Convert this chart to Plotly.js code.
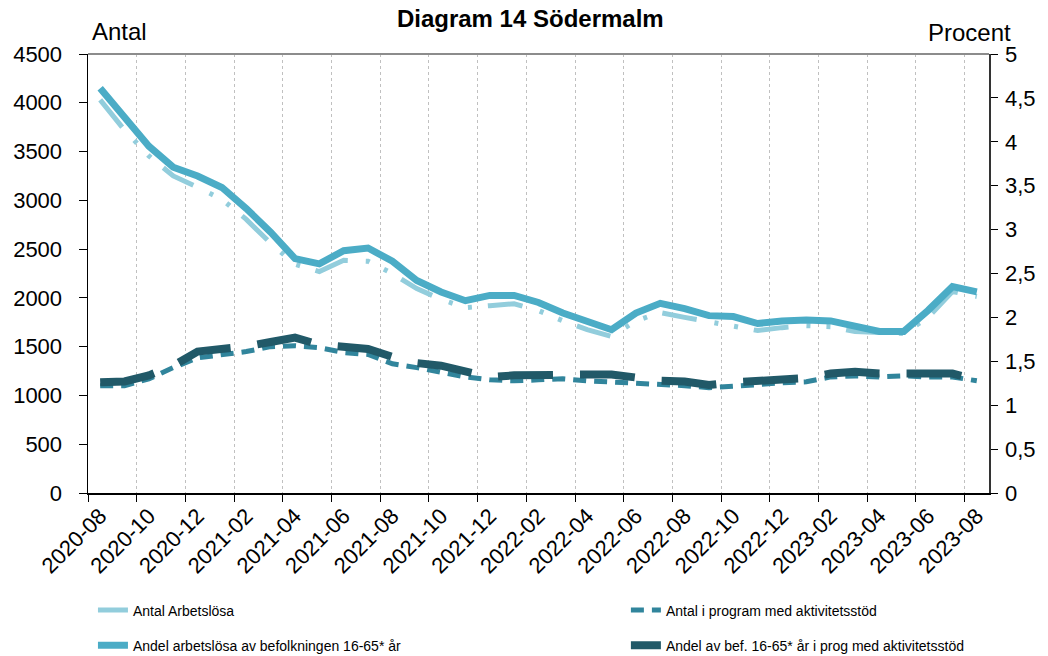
<!DOCTYPE html>
<html>
<head>
<meta charset="utf-8">
<script src="https://cdn.plot.ly/plotly-3.0.1.min.js"></script>
<style>html,body{margin:0;padding:0;background:#fff;}#chart{width:1048px;height:656px;}</style>
</head>
<body>
<div id="chart"></div>
<script>
const months = ["2020-08","2020-09","2020-10","2020-11","2020-12","2021-01","2021-02","2021-03","2021-04","2021-05","2021-06","2021-07","2021-08","2021-09","2021-10","2021-11","2021-12","2022-01","2022-02","2022-03","2022-04","2022-05","2022-06","2022-07","2022-08","2022-09","2022-10","2022-11","2022-12","2023-01","2023-02","2023-03","2023-04","2023-05","2023-06","2023-07","2023-08"];
const antalArbetslosa = [4030,3720,3455,3250,3135,3010,2805,2560,2345,2270,2385,2375,2250,2095,1985,1900,1920,1940,1870,1765,1675,1605,1765,1850,1800,1755,1715,1665,1695,1715,1705,1655,1645,1635,1800,2065,2015];
const antalProgram = [1100,1100,1170,1285,1385,1420,1450,1500,1510,1490,1440,1420,1325,1285,1235,1190,1160,1150,1160,1170,1150,1140,1130,1120,1100,1080,1090,1110,1130,1140,1190,1200,1190,1200,1190,1190,1150];
const andelArbetslosa = [4.61,4.28,3.95,3.71,3.61,3.48,3.24,2.97,2.67,2.61,2.76,2.79,2.64,2.42,2.29,2.19,2.25,2.25,2.17,2.05,1.95,1.86,2.05,2.16,2.10,2.02,2.01,1.93,1.96,1.97,1.96,1.89,1.84,1.84,2.08,2.35,2.29];
const andelProgram = [1.26,1.27,1.34,1.45,1.61,1.63,1.67,1.72,1.77,1.69,1.67,1.64,1.55,1.48,1.45,1.39,1.32,1.34,1.35,1.34,1.35,1.35,1.31,1.28,1.27,1.23,1.26,1.28,1.30,1.31,1.36,1.38,1.36,1.35,1.36,1.36,1.29];
const seriesNames = ["Antal Arbetslösa","Antal i program med aktivitetsstöd","Andel arbetslösa av befolkningen 16-65* år","Andel av bef. 16-65* år i prog med aktivitetsstöd"];

const FONT = "Liberation Sans, Arial, sans-serif";

const traces = [
  {x: months, y: antalArbetslosa, name: seriesNames[0], type: "scatter", mode: "lines", yaxis: "y",
   line: {color: "#92CDDC", width: 5, dash: "35px,18px,4px,16px,4px,16px"}, legend: "legend", legendgroup: "a"},
  {x: months, y: antalProgram, name: seriesNames[1], type: "scatter", mode: "lines", yaxis: "y",
   line: {color: "#31859C", width: 5, dash: "13px,8px"}, legend: "legend2", legendgroup: "c"},
  {x: months, y: andelArbetslosa, name: seriesNames[2], type: "scatter", mode: "lines", yaxis: "y2",
   line: {color: "#4BACC6", width: 7}, legend: "legend", legendgroup: "b"},
  {x: months, y: andelProgram, name: seriesNames[3], type: "scatter", mode: "lines", yaxis: "y2",
   line: {color: "#215968", width: 8, dash: "55px,27px"}, legend: "legend2", legendgroup: "d"}
];

const layout = {
  width: 1048, height: 656,
  margin: {l: 88, r: 59, t: 54, b: 163, autoexpand: false},
  paper_bgcolor: "#fff", plot_bgcolor: "#fff",
  font: {family: FONT, color: "#000"},
  separators: ", ",
  showlegend: true,
  title: {text: "<b>Diagram 14 Södermalm</b>", font: {family: FONT, size: 24, color: "#000"}, x: 0.506, xanchor: "center", y: 0.972, yanchor: "middle"},
  xaxis: {
    type: "category", range: [-0.5, 36.5], tickson: "boundaries", dtick: 2,
    tickangle: -45, tickfont: {size: 22, family: FONT},
    showgrid: true, gridcolor: "#c0c0c0", griddash: "dot", gridwidth: 1,
    showline: true, linecolor: "#000", linewidth: 1.5,
    ticks: "outside", ticklen: 7, tickcolor: "#000", tickwidth: 1,
    zeroline: false, fixedrange: true
  },
  yaxis: {
    range: [0, 4500], dtick: 500, tick0: 0,
    tickfont: {size: 22, family: FONT}, showgrid: false, zeroline: false,
    showline: true, linecolor: "#000", linewidth: 1.5,
    ticks: "outside", ticklen: 8, tickcolor: "#000", ticklabelstandoff: 12
  },
  yaxis2: {
    range: [0, 5], dtick: 0.5, tick0: 0, overlaying: "y", side: "right",
    tickfont: {size: 22, family: FONT}, showgrid: false, zeroline: false,
    showline: true, linecolor: "#333", linewidth: 1.5,
    ticks: "outside", ticklen: 7, tickcolor: "#000", ticklabelstandoff: 3
  },
  yaxis3: {
    range: [0, 4500], dtick: 500, tick0: 0, overlaying: "y", side: "left",
    showticklabels: false, showgrid: false, zeroline: false, showline: false,
    ticks: "inside", ticklen: 8, tickcolor: "#000"
  },
  yaxis4: {
    range: [0, 5], dtick: 0.5, tick0: 0, overlaying: "y", side: "right",
    showticklabels: false, showgrid: false, zeroline: false, showline: false,
    ticks: "inside", ticklen: 8, tickcolor: "#000"
  },
  legend: {x: 0.0055, y: -0.2312, xanchor: "left", yanchor: "top",
    orientation: "v", traceorder: "grouped", tracegroupgap: 14, font: {size: 14, family: FONT}, bgcolor: "rgba(0,0,0,0)"},
  legend2: {x: 0.597, y: -0.2312, xanchor: "left", yanchor: "top",
    orientation: "v", traceorder: "grouped", tracegroupgap: 14, font: {size: 14, family: FONT}, bgcolor: "rgba(0,0,0,0)"},
  annotations: [
    {text: "Antal", xref: "paper", yref: "paper", x: 0.002, y: 1.052, xanchor: "left", yanchor: "middle", showarrow: false, font: {size: 24, family: FONT}},
    {text: "Procent", xref: "paper", yref: "paper", x: 1.0266, y: 1.05, xanchor: "right", yanchor: "middle", showarrow: false, font: {size: 24, family: FONT}}
  ],
  shapes: [
    {type: "line", xref: "paper", yref: "paper", x0: 0, x1: 1, y0: 1, y1: 1, line: {color: "#8c8c8c", width: 2}}
  ]
};

Plotly.newPlot("chart", traces, layout, {displayModeBar: false, staticPlot: true});
</script>
</body>
</html>
